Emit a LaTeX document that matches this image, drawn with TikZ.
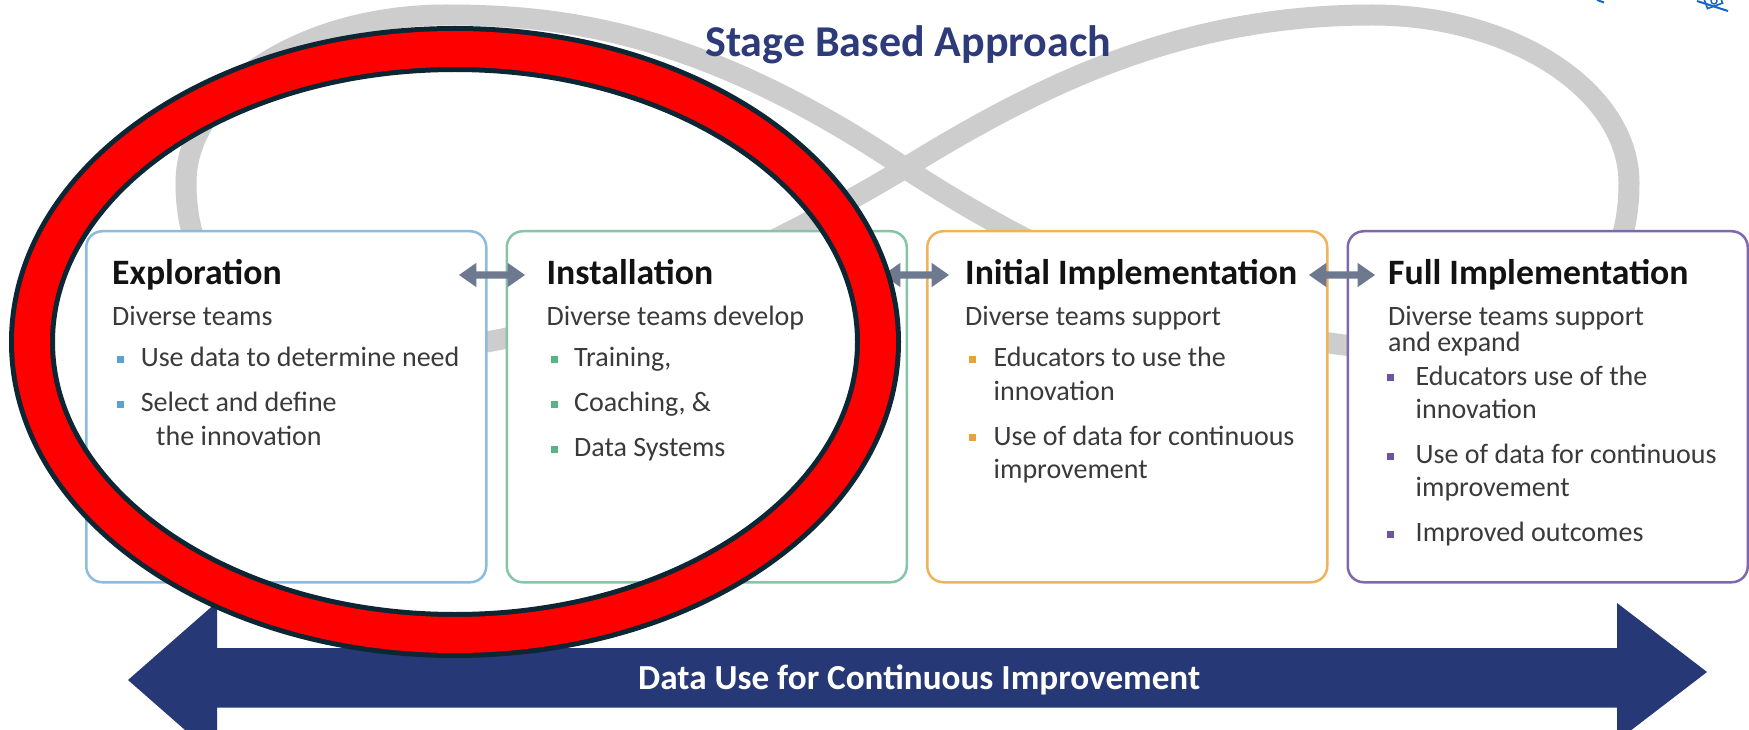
\documentclass[tikz,border=0pt]{standalone}
\usepackage{fontspec}
\setmainfont{Carlito}
\usetikzlibrary{shapes.arrows}
\definecolor{navy}{HTML}{2E3B7B}
\definecolor{arrnavy}{HTML}{263875}
\definecolor{loopgray}{HTML}{CDCDCD}
\definecolor{bxblue}{HTML}{8CBBE0}
\definecolor{bxgreen}{HTML}{86C5A6}
\definecolor{bxorange}{HTML}{EFB45A}
\definecolor{bxpurple}{HTML}{7F67AC}
\definecolor{blblue}{HTML}{5AA2D6}
\definecolor{blgreen}{HTML}{56B487}
\definecolor{blorange}{HTML}{E9A23B}
\definecolor{blpurple}{HTML}{6B55A2}
\definecolor{smarrow}{HTML}{6E7990}
\definecolor{ringred}{HTML}{FF0000}
\definecolor{ringdark}{HTML}{0D2634}
\definecolor{bodytext}{HTML}{3A3A3A}
\definecolor{headtext}{HTML}{121212}
\definecolor{stampblue}{HTML}{1565C8}
\newlength\fitlen
\newcommand\setfit[3]{\settowidth\fitlen{\fontsize{10}{12}\selectfont #3}%
  \pgfmathsetmacro\tmpfit{10*#2/\fitlen}\global\let#1\tmpfit}
\AtBeginDocument{%
  \setfit\bodysz{318.6}{Use data to determine need}%
  \setfit\headsz{332}{\bfseries Initial Implementation}%
  \setfit\titlesz{406}{\bfseries Stage Based Approach}%
  \setfit\arrsz{562}{\bfseries Data Use for Continuous Improvement}}
\begin{document}
\begin{tikzpicture}[x=1pt,y=-1pt,
  stagebox/.style={draw, line width=2.5pt, rounded corners=16pt, fill=white,
    minimum width=400pt, minimum height=351pt, anchor=north west, inner sep=0pt},
  headtxt/.style={font=\fontsize{\headsz}{\headsz}\selectfont\bfseries, text=headtext, anchor=base west, inner sep=0pt},
  bodytxt/.style={font=\fontsize{\bodysz}{\bodysz}\selectfont, text=bodytext, anchor=base west, inner sep=0pt},
  blt/.style={minimum size=7pt, inner sep=0pt, anchor=center},
  linkarrow/.style={double arrow, fill=smarrow, draw=none, inner sep=0pt, inner ysep=3.5pt,
    minimum height=66pt, double arrow head extend=8.5pt, double arrow tip angle=70},
]
\useasboundingbox (0,0) rectangle (1749,730);
\fill[white] (0,0) rectangle (1749,730);

% infinity loop
\draw[loopgray, line width=21pt, line cap=round, line join=round]
  (905,168) .. controls (1040,85) and (1180,15) .. (1372,15)
  .. controls (1513,15) and (1629,91) .. (1629,183)
  .. controls (1629,290) and (1560,350) .. (1420,350)
  .. controls (1250,350) and (1060,270) .. (905,168)
  .. controls (700,30) and (560,15) .. (446,15)
  .. controls (303,15) and (186,91) .. (186,183)
  .. controls (186,290) and (260,350) .. (400,350)
  .. controls (560,350) and (760,255) .. (905,168);

% title
\node[font=\fontsize{\titlesz}{\titlesz}\selectfont\bfseries, text=navy, anchor=base west, inner sep=0pt] (title) at (705,57) {Stage Based Approach};

% stage boxes
\node[stagebox, draw=bxblue] (b1) at (85,230) {};
\node[stagebox, draw=bxgreen] (b2) at (505.5,230) {};
\node[stagebox, draw=bxorange] (b3) at (926,230) {};
\node[stagebox, draw=bxpurple] (b4) at (1346.5,230) {};

% link arrows
\node[linkarrow] (a12) at (492,275) {};
\node[linkarrow] (a23) at (916,275) {};
\node[linkarrow] (a34) at (1342,275) {};

% Exploration
\node[headtxt] (t1) at (112,284) {Exploration};
\node[bodytxt] (s1) at (112,325) {Diverse teams};
\node[blt, fill=blblue] (p11) at (120.5,359) {};
\node[bodytxt] (l11) at (140.6,366.7) {Use data to determine need};
\node[blt, fill=blblue] (p12) at (120.5,404) {};
\node[bodytxt] (l12) at (140.6,411.7) {Select and define};
\node[bodytxt] (l12b) at (156,445) {the innovation};

% Installation
\node[headtxt] (t2) at (546.5,284) {Installation};
\node[bodytxt] (s2) at (546.5,325) {Diverse teams develop};
\node[blt, fill=blgreen] (p21) at (554.5,359) {};
\node[bodytxt] (l21) at (574,366.7) {Training,};
\node[blt, fill=blgreen] (p22) at (554.5,404) {};
\node[bodytxt] (l22) at (574,411.7) {Coaching, \&};
\node[blt, fill=blgreen] (p23) at (554.5,449) {};
\node[bodytxt] (l23) at (574,456.7) {Data Systems};

% Initial Implementation
\node[headtxt] (t3) at (965,284) {Initial Implementation};
\node[bodytxt] (s3) at (965,325) {Diverse teams support};
\node[blt, fill=blorange] (p31) at (972,359) {};
\node[bodytxt] (l31) at (993.5,366.7) {Educators to use the};
\node[bodytxt] (l31b) at (993.5,400) {innovation};
\node[blt, fill=blorange] (p32) at (972,437.5) {};
\node[bodytxt] (l32) at (993.5,445) {Use of data for continuous};
\node[bodytxt] (l32b) at (993.5,478) {improvement};

% Full Implementation
\node[headtxt] (t4) at (1388,284) {Full Implementation};
\node[bodytxt] (s4) at (1388,325) {Diverse teams support};
\node[bodytxt] (s4b) at (1388,351.7) {and expand};
\node[blt, fill=blpurple] (p41) at (1390.5,377.5) {};
\node[bodytxt] (l41) at (1415.5,385) {Educators use of the};
\node[bodytxt] (l41b) at (1415.5,418.3) {innovation};
\node[blt, fill=blpurple] (p42) at (1390.5,456) {};
\node[bodytxt] (l42) at (1415.5,463.3) {Use of data for continuous};
\node[bodytxt] (l42b) at (1415.5,496.7) {improvement};
\node[blt, fill=blpurple] (p43) at (1390.5,534) {};
\node[bodytxt] (l43) at (1415.5,541.7) {Improved outcomes};

% bottom double arrow
\fill[arrnavy] (128,680) -- (217,602) -- (217,648) -- (1617,648) -- (1617,603)
  -- (1707,672) -- (1617,741) -- (1617,707.7) -- (217,707.7) -- (217,758) -- cycle;
\node[font=\fontsize{\arrsz}{\arrsz}\selectfont\bfseries, text=white, anchor=base west, inner sep=0pt] (dl) at (638,689) {Data Use for Continuous Improvement};

% red ring
\draw[ringdark, line width=46pt] (455,342) ellipse [x radius=423pt, y radius=293pt];
\draw[ringred, line width=36pt] (455,342) ellipse [x radius=423pt, y radius=293pt];

% clipped blue mark, top right
\draw[stampblue, line width=2pt] (1597,0) -- (1604,2.5);
\draw[stampblue, line width=2pt] (1697,1) -- (1728,11);
\draw[stampblue, line width=1.6pt, rotate around={20:(1714,3)}] (1706,-6) rectangle (1722,6);
\draw[stampblue, line width=1.4pt] (1714,1) circle [radius=3pt];
\end{tikzpicture}
\end{document}
